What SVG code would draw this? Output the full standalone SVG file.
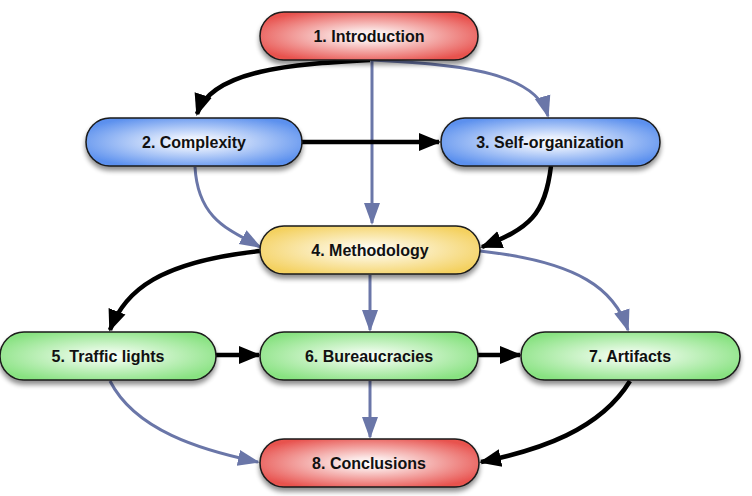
<svg xmlns="http://www.w3.org/2000/svg" width="752" height="496" viewBox="0 0 752 496">
<style>
.node rect{stroke:#1a1a1a;stroke-width:1.5;filter:url(#sh)}
.node text{font-family:"Liberation Sans",Arial,sans-serif;font-weight:bold;font-size:16px;fill:#111;text-anchor:middle;dominant-baseline:central}
.b{fill:none;stroke:#000;stroke-width:4.5;marker-end:url(#ab)}
.u{fill:none;stroke:#6a76a8;stroke-width:3;marker-end:url(#au)}
</style>
<defs>
<filter id="sh" x="-10%" y="-20%" width="120%" height="160%">
<feGaussianBlur in="SourceAlpha" stdDeviation="2.5"/>
<feOffset dx="0" dy="4" result="o"/>
<feComponentTransfer><feFuncA type="linear" slope="0.45"/></feComponentTransfer>
<feMerge><feMergeNode/><feMergeNode in="SourceGraphic"/></feMerge>
</filter>
<radialGradient id="gr" cx="50%" cy="50%" r="58%"><stop offset="0" stop-color="#fff"/><stop offset="0.2" stop-color="#fbe6e5"/><stop offset="1" stop-color="#e8524e"/></radialGradient>
<radialGradient id="gb" cx="50%" cy="50%" r="58%"><stop offset="0" stop-color="#fff"/><stop offset="0.2" stop-color="#e6eefd"/><stop offset="1" stop-color="#5b90ee"/></radialGradient>
<radialGradient id="gy" cx="50%" cy="50%" r="58%"><stop offset="0" stop-color="#fff"/><stop offset="0.2" stop-color="#fdf6de"/><stop offset="1" stop-color="#f4d160"/></radialGradient>
<radialGradient id="gg" cx="50%" cy="50%" r="58%"><stop offset="0" stop-color="#fff"/><stop offset="0.2" stop-color="#e6fae4"/><stop offset="1" stop-color="#88e281"/></radialGradient>
<marker id="ab" markerUnits="userSpaceOnUse" markerWidth="22" markerHeight="22" viewBox="0 0 22 22" refX="20" refY="11" orient="auto"><path d="M0,2 L22,11 L0,20 Z" fill="#000"/></marker>
<marker id="au" markerUnits="userSpaceOnUse" markerWidth="22" markerHeight="22" viewBox="0 0 22 22" refX="20" refY="11" orient="auto"><path d="M0,3 L22,11 L0,19 Z" fill="#6a76a8"/></marker>
</defs>
<g id="connectors">
<path class="b" d="M370,60 C300,64 212,68 197,114"/>
<path class="u" d="M372,60 C450,64 535,70 548,116"/>
<path class="u" d="M372,60 L372,223"/>
<path class="b" d="M302,142 L439,142"/>
<path class="u" d="M195,167 C198,220 230,230 260,247"/>
<path class="b" d="M551,166 C545,215 530,228 482,247"/>
<path class="b" d="M260,251 C160,262 125,290 110,330"/>
<path class="u" d="M370,275 L370,330"/>
<path class="u" d="M480,251 C580,262 615,290 628,330"/>
<path class="b" d="M216,355 L259,355"/>
<path class="b" d="M478,355 L520,355"/>
<path class="u" d="M110,381 C135,430 200,450 258,462"/>
<path class="u" d="M370,381 L370,437"/>
<path class="b" d="M630,381 C600,430 540,450 481,462"/>
</g>
<g id="n1" class="node"><rect x="260" y="12" width="218" height="48" rx="24" fill="url(#gr)"/><text x="369" y="36">1. Introduction</text></g>
<g id="n2" class="node"><rect x="86" y="118" width="216" height="48" rx="24" fill="url(#gb)"/><text x="194" y="142">2. Complexity</text></g>
<g id="n3" class="node"><rect x="441" y="118" width="219" height="48" rx="24" fill="url(#gb)"/><text x="550" y="142">3. Self-organization</text></g>
<g id="n4" class="node"><rect x="260" y="226" width="220" height="48" rx="24" fill="url(#gy)"/><text x="370" y="250">4. Methodology</text></g>
<g id="n5" class="node"><rect x="0" y="332" width="216" height="48" rx="24" fill="url(#gg)"/><text x="108" y="356">5. Traffic lights</text></g>
<g id="n6" class="node"><rect x="260" y="332" width="218" height="48" rx="24" fill="url(#gg)"/><text x="369" y="356">6. Bureaucracies</text></g>
<g id="n7" class="node"><rect x="521" y="332" width="219" height="48" rx="24" fill="url(#gg)"/><text x="630" y="356">7. Artifacts</text></g>
<g id="n8" class="node"><rect x="260" y="439" width="219" height="48" rx="24" fill="url(#gr)"/><text x="369" y="463">8. Conclusions</text></g>
</svg>
